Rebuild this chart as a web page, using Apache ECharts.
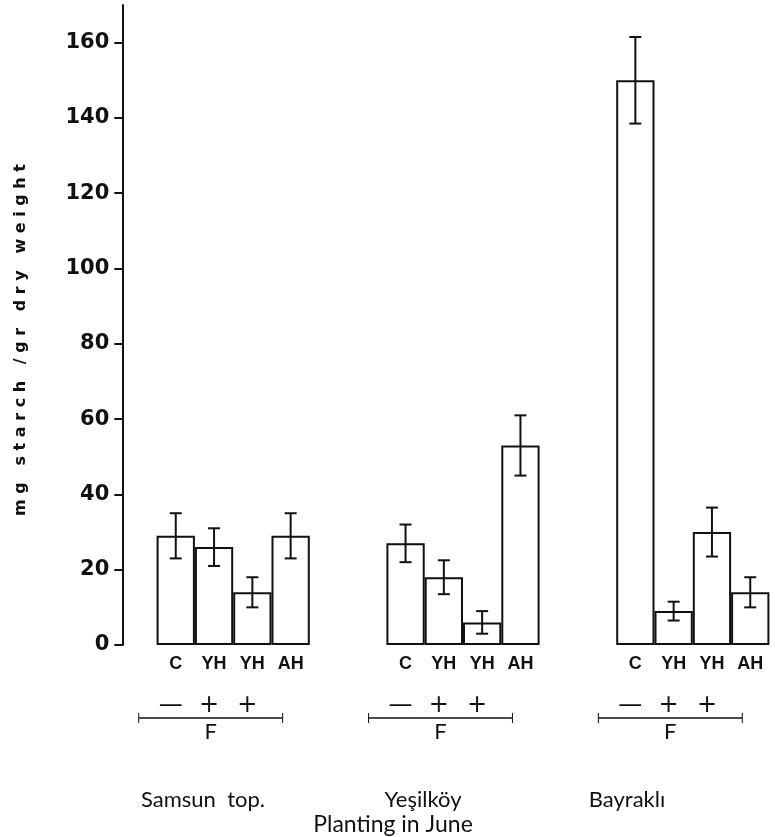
<!DOCTYPE html>
<html>
<head>
<meta charset="utf-8">
<script src="https://cdn.jsdelivr.net/npm/echarts@6/dist/echarts.min.js"></script>
<style>
  html, body { margin: 0; padding: 0; background: #fff; }
  #chart { width: 775px; height: 837px; }
</style>
</head>
<body>
<div id="chart"></div>
<script>
// ---- data ----
const treatments = ['C', 'YH', 'YH', 'AH'];
const sites = ['Samsun  top.', 'Yeşilköy', 'Bayraklı'];
const samsunMeans = [29, 26, 14, 29];
const samsunErrors = [6, 5, 4, 6];
const yesilkoyMeans = [27, 18, 6, 53];
const yesilkoyErrors = [5, 4.5, 3, 8];
const bayrakliMeans = [150, 9, 30, 14];
const bayrakliErrors = [11.5, 2.5, 6.5, 4];
const fertilizerSigns = ['—', '+', '+'];
const fertilizerLabel = 'F';
const xTitle = 'Planting in June';
const yTitle = 'mg starch /gr dry weight';
const yTicks = [0, 20, 40, 60, 80, 100, 120, 140, 160];
const yMax = 170;

// ---- build category slots (gap slots between groups) ----
const groupMeans = [samsunMeans, yesilkoyMeans, bayrakliMeans];
const groupErrors = [samsunErrors, yesilkoyErrors, bayrakliErrors];
const categories = [];
const barData = [];
const errData = [];
const groupStart = [];
categories.push(''); barData.push(null);
groupMeans.forEach((means, g) => {
  if (g > 0) { categories.push('', ''); barData.push(null, null); }
  groupStart.push(categories.length);
  means.forEach((v, i) => {
    const idx = categories.length;
    categories.push(treatments[i]);
    barData.push(v);
    errData.push([idx, v, groupErrors[g][i]]);
  });
});

const chart = echarts.init(document.getElementById('chart'));
const gridLeft = 118.3, gridTop = 5, gridBottom = 192;
const gridRight = 775 - (gridLeft + categories.length * 38.3);

chart.setOption({
  animation: false,
  backgroundColor: '#fff',
  grid: { left: gridLeft, right: gridRight, top: gridTop, bottom: gridBottom, containLabel: false },
  xAxis: {
    type: 'category',
    data: categories,
    axisLine: { show: false },
    axisTick: { show: false },
    axisLabel: {
      interval: 0, margin: 10,
      fontFamily: 'Liberation Sans', fontWeight: 'bold', fontSize: 18, color: '#111'
    },
    splitLine: { show: false }
  },
  yAxis: {
    type: 'value',
    min: 0, max: yMax, interval: 20,
    offset: -4,
    axisLine: { show: true, lineStyle: { color: '#111', width: 2 } },
    axisTick: { show: true, inside: false, length: 8, customValues: yTicks, lineStyle: { color: '#111', width: 2 } },
    axisLabel: {
      customValues: yTicks, margin: 13,
      fontFamily: 'DejaVu Sans', fontWeight: 'bold', fontSize: 21, color: '#111'
    },
    splitLine: { show: false }
  },
  series: [
    {
      type: 'bar',
      data: barData,
      barWidth: '100%',
      barCategoryGap: 0,
      itemStyle: { color: '#fff', borderColor: '#111', borderWidth: 2 },
      z: 2
    },
    {
      type: 'custom',
      data: errData,
      z: 3,
      renderItem: function (params, api) {
        const c = api.value(0), v = api.value(1), e = api.value(2);
        const hi = api.coord([c, v + e]);
        const lo = api.coord([c, v - e]);
        const x = hi[0], cap = 6;
        const style = { stroke: '#111', lineWidth: 2 };
        return {
          type: 'group',
          children: [
            { type: 'line', shape: { x1: x, y1: hi[1], x2: x, y2: lo[1] }, style },
            { type: 'line', shape: { x1: x - cap, y1: hi[1], x2: x + cap, y2: hi[1] }, style },
            { type: 'line', shape: { x1: x - cap, y1: lo[1], x2: x + cap, y2: lo[1] }, style }
          ]
        };
      }
    }
  ]
});

// ---- annotations positioned from the axis scale ----
const graphics = [];
const signY = 706, lineY = 718, fY = 732, siteY = 800, titleY = 825;
const sitePx = [203, 423, 627];
groupStart.forEach((s, g) => {
  const px = (k) => chart.convertToPixel({ gridIndex: 0 }, [s + k, 0])[0];
  fertilizerSigns.forEach((sym, i) => {
    graphics.push({
      type: 'text', x: px(i) - 5, y: signY,
      style: { text: sym, fontFamily: 'DejaVu Sans', fontSize: 24, fill: '#111', align: 'center', verticalAlign: 'middle' }
    });
  });
  const x1 = px(0) - 37, x2 = px(3) - 8;
  graphics.push({ type: 'line', shape: { x1, y1: lineY, x2, y2: lineY }, style: { stroke: '#111', lineWidth: 1.6 } });
  graphics.push({ type: 'line', shape: { x1, y1: lineY - 5, x2: x1, y2: lineY + 5 }, style: { stroke: '#111', lineWidth: 1 } });
  graphics.push({ type: 'line', shape: { x1: x2, y1: lineY - 5, x2: x2, y2: lineY + 5 }, style: { stroke: '#111', lineWidth: 1 } });
  graphics.push({
    type: 'text', x: (x1 + x2) / 2, y: fY,
    style: { text: fertilizerLabel, fontFamily: 'Lato', fontSize: 22, fill: '#111', align: 'center', verticalAlign: 'middle' }
  });
  graphics.push({
    type: 'text', x: sitePx[g], y: siteY,
    style: { text: sites[g], fontFamily: 'Lato', fontSize: 22, fill: '#111', align: 'center', verticalAlign: 'middle' }
  });
});
graphics.push({
  type: 'text', x: 393, y: titleY,
  style: { text: xTitle, fontFamily: 'Lato', fontSize: 23, fill: '#111', align: 'center', verticalAlign: 'middle' }
});
graphics.push({
  type: 'text', x: 21, y: 340, rotation: Math.PI / 2,
  style: { text: yTitle.split(' ').map(w => w.split('').join(' ')).join('   '), fontFamily: 'DejaVu Sans', fontWeight: 'bold', fontSize: 16, fill: '#111', align: 'center', verticalAlign: 'middle' }
});
chart.setOption({ graphic: graphics });
</script>
</body>
</html>
